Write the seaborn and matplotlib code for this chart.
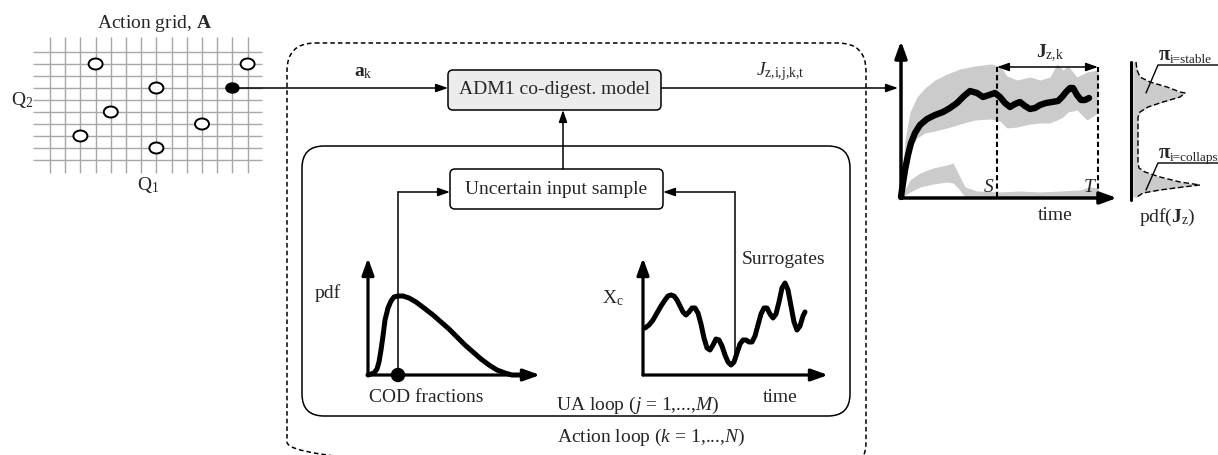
import numpy as np
import matplotlib
matplotlib.use("Agg")
import matplotlib.pyplot as plt
from matplotlib.patches import FancyBboxPatch, Ellipse
import seaborn as sns

sns.set_theme(style="white")
plt.rcParams["font.family"] = ["Liberation Serif", "DejaVu Serif"]
plt.rcParams["mathtext.fontset"] = "custom"
plt.rcParams["mathtext.rm"] = "Liberation Serif"
plt.rcParams["mathtext.it"] = "Liberation Serif:italic"
plt.rcParams["mathtext.bf"] = "Liberation Serif:bold"

# --- action grid (cell indices) ---
grid_cols = 14
grid_rows = 10
circle_col = [3, 13, 7, 4, 10, 2, 7]
circle_row = [1, 1, 3, 5, 6, 7, 8]
chosen_col, chosen_row = 12, 3

# --- COD fraction pdf (px) ---
cod_x = [368, 374, 377, 379, 381, 383, 385, 388, 391, 394, 398, 403, 409, 416, 424, 433, 441,
         449, 457, 465, 473, 481, 489, 497, 505, 512, 520]
cod_y = [375, 373, 369, 362, 350, 336, 320, 308, 301, 297, 296, 296, 298, 302, 308, 315, 322,
         329, 337, 345, 352, 359, 365, 370, 373, 375, 375]
cod_sample = 398

# --- surrogate time series X_c ---
sur_x = [645, 649, 653, 657, 661, 665, 668, 671, 674, 677, 680, 683, 686, 689, 692, 695, 698,
         701, 704, 707, 710, 713, 716, 719, 722, 725, 728, 731, 734, 737, 740, 743, 746, 749,
         752, 755, 758, 761, 764, 767, 770, 773, 776, 779, 782, 785, 788, 791, 794, 797, 800,
         803, 805]
sur_y = [328, 325, 320, 313, 306, 300, 296, 295, 296, 300, 306, 312, 315, 312, 308, 308, 313,
         324, 338, 348, 350, 345, 339, 340, 346, 355, 362, 365, 362, 353, 344, 340, 340, 342,
         342, 336, 325, 314, 308, 308, 314, 318, 314, 302, 288, 283, 290, 306, 322, 330, 326,
         316, 312]
sur_sample = 735

# --- output J over time ---
mean_x = [901, 903, 905, 908, 911, 915, 920, 927, 935, 943, 950, 957, 964, 970, 977, 983, 989,
          995, 1000, 1005, 1010, 1015, 1020, 1025, 1030, 1035, 1040, 1046, 1052, 1058, 1062,
          1066, 1070, 1073, 1077, 1081, 1085, 1089]
mean_y = [197, 183, 170, 155, 143, 133, 125, 119, 115, 112, 108, 103, 96, 91, 93, 97, 95,
          93, 97, 103, 107, 104, 102, 106, 109, 108, 105, 103, 102, 101, 97,
          92, 88, 88, 95, 100, 100, 98]
stable_x = [901, 905, 910, 917, 925, 935, 947, 960, 975, 990, 1000, 1007, 1017, 1030, 1040,
            1050, 1057, 1063, 1068, 1077, 1087, 1098]
stable_hi = [197, 140, 112, 97, 88, 80, 74, 69, 66, 64, 66, 76, 80, 77, 80, 77, 64, 70, 66, 77, 72, 70]
stable_lo = [197, 180, 150, 138, 133, 131, 128, 124, 120, 119, 121, 128, 127, 124, 123, 123,
             120, 117, 112, 110, 120, 113]
collapse_x = [901, 910, 920, 933, 947, 953, 958, 965, 977, 997, 1020, 1040, 1060, 1080, 1090, 1098]
collapse_hi = [197, 180, 173, 168, 165, 163, 173, 187, 191, 192, 191, 192, 191, 190, 187, 188]
collapse_lo = [198, 192, 187, 184, 182, 183, 188, 197, 198, 198, 198, 198, 198, 198, 198, 198]
t_start, t_end = 997, 1098

# --- pdf of J_z ---
pj_y = [62, 70, 77, 82, 87, 92, 93, 97, 102, 107, 112, 117, 163, 168, 172, 177, 182, 185,
        187, 190, 193, 197]
pj_x = [1136, 1137, 1140, 1150, 1167, 1180, 1185, 1180, 1163, 1148, 1140, 1138, 1138, 1139,
        1145, 1160, 1180, 1200, 1183, 1160, 1143, 1137]
pj_labels = ["i=stable", "i=collapse"]

fig = plt.figure(figsize=(12.18, 4.55), dpi=100)
ax = fig.add_axes([0, 0, 1, 1])
FS = 14


def arrow(x0, y0, x1, y1, lw=1.1, hl=0.72, hw=0.25, style="-|>"):
    ax.annotate("", xy=(x1, y1), xytext=(x0, y0),
                arrowprops=dict(arrowstyle=f"{style},head_length={hl},head_width={hw}",
                                lw=lw, color="black", shrinkA=0, shrinkB=0,
                                mutation_scale=10))


# action grid
gx = 50 + 15.2 * np.arange(grid_cols)
gy = 52 + 12.0 * np.arange(grid_rows)
ax.vlines(gx, 37, 173, color="#a8a8a8", lw=1.0)
ax.hlines(gy, 33, 262, color="#a8a8a8", lw=1.0)
for c, r in zip(circle_col, circle_row):
    ax.add_patch(Ellipse((gx[c], gy[r]), 14, 11, facecolor="white", edgecolor="black", lw=1.4, zorder=3))
ax.add_patch(Ellipse((gx[chosen_col], gy[chosen_row]), 13, 10, facecolor="black", edgecolor="black", zorder=3))
ax.text(155, 24, r"Action grid, $\mathbf{A}$", ha="center", va="center", fontsize=FS)
ax.text(22, 100, r"Q$_{\mathrm{2}}$", ha="center", va="center", fontsize=FS)
ax.text(148, 185, r"Q$_{\mathrm{1}}$", ha="center", va="center", fontsize=FS)

# loops
ax.add_patch(FancyBboxPatch((287, 43), 579, 427, boxstyle="round,pad=0,rounding_size=28",
                            fill=False, lw=1.1, ls=(0, (3, 2)), edgecolor="black"))
ax.add_patch(FancyBboxPatch((302, 146), 548, 270, boxstyle="round,pad=0,rounding_size=22",
                            fill=False, lw=1.1, edgecolor="black"))
ax.add_patch(FancyBboxPatch((448, 70), 213, 40, boxstyle="round,pad=0,rounding_size=5",
                            facecolor="#ececec", lw=1.1, edgecolor="black"))
ax.text(554.5, 90, "ADM1 co-digest. model", ha="center", va="center", fontsize=FS)
ax.add_patch(FancyBboxPatch((450, 169), 213, 40, boxstyle="round,pad=0,rounding_size=5",
                            facecolor="white", lw=1.1, edgecolor="black"))
ax.text(556.5, 189, "Uncertain input sample", ha="center", va="center", fontsize=FS)

arrow(gx[chosen_col], gy[chosen_row], 448, 88)
ax.text(363, 72, r"$\mathbf{a}_{\mathrm{k}}$", ha="center", va="center", fontsize=FS)
arrow(661, 88, 898, 88)
ax.text(780, 72, r"$J_{\mathrm{z{,}i{,}j{,}k{,}t}}$", ha="center", va="center", fontsize=FS)
arrow(563, 169, 563, 110)
ax.text(651, 437, r"Action loop ($k$ = 1,...,$N$)", ha="center", va="center", fontsize=FS)
ax.text(638, 405, r"UA loop ($j$ = 1,...,$M$)", ha="center", va="center", fontsize=FS)

# COD pdf panel
arrow(368, 375, 368, 258, lw=2.3, hl=1.0, hw=0.36)
arrow(368, 375, 540, 375, lw=2.3, hl=1.0, hw=0.36)
sns.lineplot(x=cod_x, y=cod_y, sort=False, estimator=None, color="black", lw=3.6,
             solid_capstyle="round", ax=ax)
ax.plot([cod_sample, cod_sample], [375, 192], color="black", lw=1.1)
arrow(cod_sample, 192, 450, 192)
ax.add_patch(Ellipse((cod_sample, 375), 13, 13, color="black", zorder=4))
ax.text(328, 293, "pdf", ha="center", va="center", fontsize=FS)
ax.text(426, 398, "COD fractions", ha="center", va="center", fontsize=FS)

# surrogate panel
arrow(643, 375, 643, 258, lw=2.3, hl=1.0, hw=0.36)
arrow(643, 375, 828, 375, lw=2.3, hl=1.0, hw=0.36)
sns.lineplot(x=sur_x, y=sur_y, sort=False, estimator=None, color="black", lw=3.6,
             solid_capstyle="round", solid_joinstyle="round", ax=ax)
ax.plot([sur_sample, sur_sample], [362, 192], color="black", lw=1.1)
arrow(sur_sample, 192, 663, 192)
ax.text(613, 298, r"X$_{\mathrm{c}}$", ha="center", va="center", fontsize=FS)
ax.text(784, 260, "Surrogates", ha="center", va="center", fontsize=FS)
ax.text(780, 398, "time", ha="center", va="center", fontsize=FS)

# output time series
ax.fill_between(stable_x, stable_lo, stable_hi, color="#cbcbcb", lw=0)
ax.fill_between(collapse_x, collapse_lo, collapse_hi, color="#cbcbcb", lw=0)
sns.lineplot(x=mean_x, y=mean_y, sort=False, estimator=None, color="black", lw=4.6,
             solid_capstyle="round", solid_joinstyle="round", ax=ax)
arrow(901, 198, 901, 41, lw=2.5, hl=1.0, hw=0.36)
arrow(901, 198, 1117, 198, lw=2.5, hl=1.0, hw=0.36)
for xv in (t_start, t_end):
    ax.plot([xv, xv], [197, 67], color="black", lw=1.5, ls=(0, (2.5, 1.5)))
arrow(t_start, 67, t_end, 67, style="<|-|>")
ax.text(1050, 53, r"$\mathbf{J}_{\mathrm{z{,}k}}$", ha="center", va="center", fontsize=FS)
ax.text(t_start - 3, 187, "S", ha="right", va="center", fontsize=FS, style="italic")
ax.text(t_end - 3, 187, "T", ha="right", va="center", fontsize=FS, style="italic")
ax.text(1055, 215, "time", ha="center", va="center", fontsize=FS)

# pdf of J_z
ax.fill_betweenx(pj_y, 1133, pj_x, color="#cbcbcb", lw=0)
ax.plot(pj_x, pj_y, color="black", lw=1.0, ls=(0, (4, 2)))
ax.plot([1131, 1131], [62, 200], color="black", lw=2.2)
for lab, y_line, y_tip in zip(pj_labels, (65, 163), (93, 190)):
    ax.plot([1146, 1158, 1218], [y_tip, y_line, y_line], color="black", lw=1.0)
    ax.text(1159, y_line - 5, "π", ha="left", va="baseline", fontsize=FS + 1, fontweight="bold")
    ax.text(1170, y_line - 2, lab, ha="left", va="baseline", fontsize=9.5)
ax.text(1167, 217, r"pdf($\mathbf{J}_{\mathrm{z}}$)", ha="center", va="center", fontsize=FS)

ax.set_xlim(0, 1218)
ax.set_ylim(455, 0)
ax.axis("off")
fig.savefig("out.png", dpi=100)
